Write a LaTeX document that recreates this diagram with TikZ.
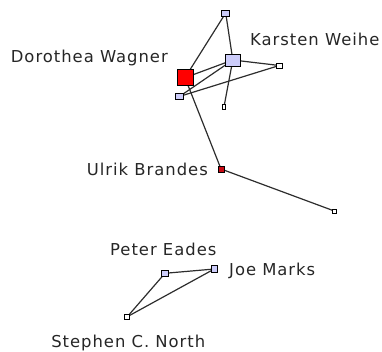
\documentclass[tikz,border=0pt]{standalone}
\usepackage{fontspec}
\setmainfont{DejaVu Sans}[LetterSpace=6]
\usetikzlibrary{backgrounds}
\definecolor{lav}{RGB}{204,204,250}
\definecolor{edgec}{RGB}{45,45,45}
\definecolor{ubred}{RGB}{200,10,20}
\begin{document}
\begin{tikzpicture}[x=1pt,y=-1pt,
  vtx/.style={rectangle,draw=black,line width=0.9pt,inner sep=0pt,outer sep=0pt},
  lavbox/.style={vtx,fill=lav},
  whitebox/.style={vtx,fill=white},
  edge/.style={draw=edgec,line width=1.2pt},
  lbl/.style={inner sep=0pt,font=\fontsize{16.4}{18}\selectfont,text=black!85}]
\useasboundingbox (0,0) rectangle (382,352);
% nodes
\node[lavbox,minimum width=8pt,minimum height=6pt] (top) at (225.7,13) {};
\node[lavbox,minimum width=15pt,minimum height=12pt] (kw) at (232.8,60) {};
\node[whitebox,minimum width=6pt,minimum height=5pt] (rt) at (279.3,65.5) {};
\node[vtx,fill=red,minimum width=16pt,minimum height=16pt] (dw) at (185,77.7) {};
\node[lavbox,minimum width=8.5pt,minimum height=6pt] (ll) at (179.6,96.4) {};
\node[whitebox,minimum width=3.5pt,minimum height=5pt] (bs) at (224,106.7) {};
\node[vtx,fill=ubred,minimum width=6pt,minimum height=6pt] (ub) at (221,169) {};
\node[whitebox,minimum width=4pt,minimum height=4pt] (br) at (334.3,211) {};
\node[lavbox,minimum width=7.5pt,minimum height=6.5pt] (pe) at (165,273.3) {};
\node[lavbox,minimum width=6.5pt,minimum height=6.5pt] (jm) at (214.3,269) {};
\node[whitebox,minimum width=5pt,minimum height=5pt] (sn) at (127.3,316.7) {};
% edges behind nodes
\begin{scope}[on background layer]
\path[edge] (top.center) -- (dw.center);
\path[edge] (top.center) -- (kw.center);
\path[edge] (dw.center) -- (kw.center);
\path[edge] (ll.center) -- (kw.center);
\path[edge] (ll.center) -- (rt.center);
\path[edge] (kw.center) -- (rt.center);
\path[edge] (kw.center) -- (bs.center);
\path[edge] (dw.center) -- (ub.center);
\path[edge] (ub.center) -- (br.center);
\path[edge] (pe.center) -- (jm.center);
\path[edge] (pe.center) -- (sn.center);
\path[edge] (jm.center) -- (sn.center);
\end{scope}
% labels
\node[lbl,anchor=base east] (ldw) at (168,62.3) {Dorothea Wagner};
\node[lbl,anchor=base west] (lkw) at (250,46) {Karsten Weihe};
\node[lbl,anchor=base east] (lub) at (208,176) {Ulrik Brandes};
\node[lbl,anchor=base] (lpe) at (163.3,255.7) {Peter Eades};
\node[lbl,anchor=base west] (ljm) at (229,275.7) {Joe Marks};
\node[lbl,anchor=base] (lsn) at (128.3,347.3) {Stephen C. North};
\end{tikzpicture}
\end{document}
